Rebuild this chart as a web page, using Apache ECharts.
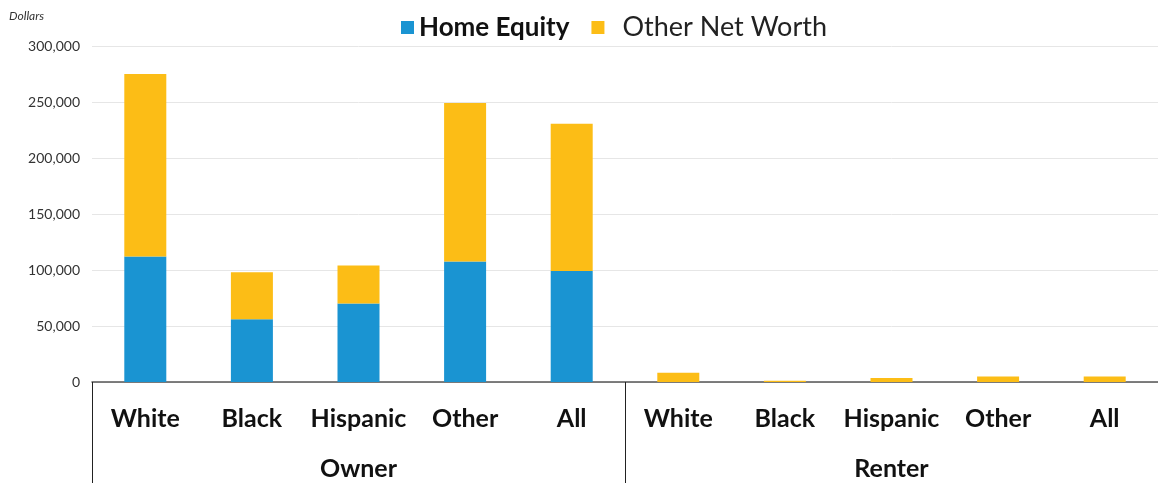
<!DOCTYPE html>
<html><head><meta charset="utf-8">
<script src="https://cdn.jsdelivr.net/npm/echarts@6/dist/echarts.min.js"></script>
<style>html,body{margin:0;padding:0;background:#fff}#c{width:1158px;height:483px}</style>
</head><body><div id="c"></div>
<script>
const categories = ['White','Black','Hispanic','Other','All','White','Black','Hispanic','Other','All'];
const groups = ['Owner','Renter'];
const homeEquity = [112000, 56000, 70000, 107500, 99000, 0, 0, 0, 0, 0];
const otherNetWorth = [163000, 42000, 34000, 141500, 131500, 8300, 1200, 3600, 5000, 5000];
const seriesNames = ['Home Equity','Other Net Worth'];
const yTicks = {min: 0, max: 300000, interval: 50000};

const chart = echarts.init(document.getElementById('c'));
chart.setOption({
  animation: false,
  textStyle: {fontFamily: 'Lato'},
  legend: {
    left: 396, top: 9, itemWidth: 13, itemHeight: 13, itemGap: 22,
    icon: 'rect',
    data: seriesNames,
    formatter: n => n === seriesNames[0] ? '{a|' + n + '}' : '{b|' + n + '}',
    textStyle: {
      rich: {
        a: {fontFamily: 'Lato', fontSize: 26, fontWeight: 'bold', color: '#111'},
        b: {fontFamily: 'Lato', fontSize: 27, color: '#222', padding: [0,0,0,13]}
      }
    }
  },
  graphic: [{type: 'text', left: 9, top: 10, style: {text: 'Dollars', font: 'italic 12px Lato', fill: '#333'}}],
  grid: {left: 92, top: 46, width: 1072, bottom: 101},
  xAxis: [{
    type: 'category', data: categories, position: 'bottom',
    axisLine: {lineStyle: {color: '#555', width: 1.5}},
    axisTick: {show: false},
    axisLabel: {fontSize: 25, fontWeight: 'bold', color: '#111', margin: 24, fontFamily: 'Lato', interval: 0}
  }, {
    type: 'category', data: groups, position: 'bottom',
    axisLine: {show: false},
    axisTick: {show: true, length: 101, lineStyle: {color: '#222', width: 1}},
    axisLabel: {fontSize: 25, fontWeight: 'bold', color: '#111', margin: 74, fontFamily: 'Lato'}
  }],
  yAxis: {
    type: 'value', min: yTicks.min, max: yTicks.max, interval: yTicks.interval,
    axisLine: {show: false}, axisTick: {show: false},
    axisLabel: {fontSize: 14, color: '#333', margin: 12, formatter: v => v.toLocaleString('en-US')},
    splitLine: {lineStyle: {color: '#e6e6e6'}}
  },
  series: [{
    name: seriesNames[0], type: 'bar', stack: 's', data: homeEquity, barWidth: 42,
    itemStyle: {color: '#1A94D2'}
  }, {
    name: seriesNames[1], type: 'bar', stack: 's', data: otherNetWorth, barWidth: 42,
    itemStyle: {color: '#FCBD16'}
  }]
});
</script></body></html>
